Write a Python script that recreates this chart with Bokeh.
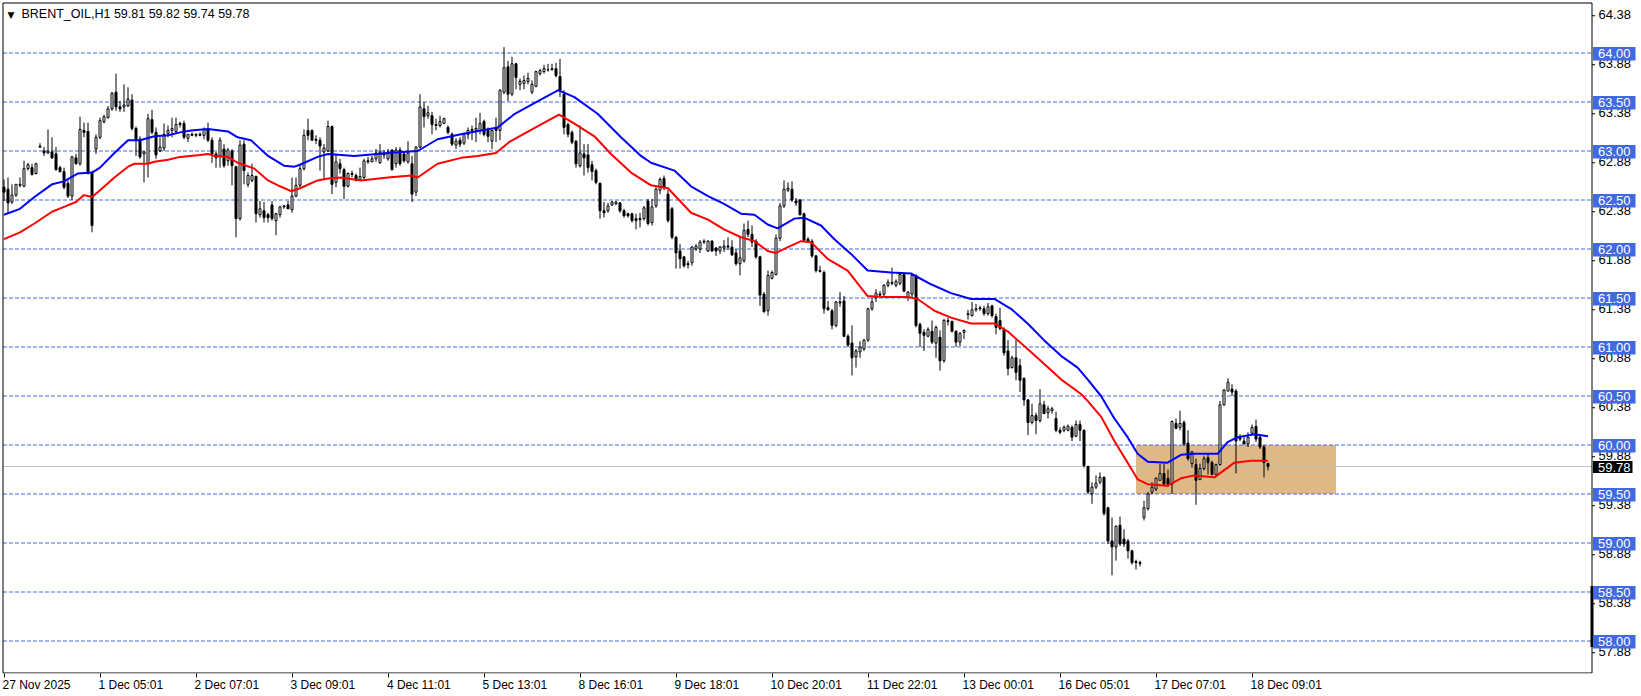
from bokeh.plotting import figure
from bokeh.models import Range1d, FixedTicker, Label, ColumnDataSource
from bokeh.core.properties import value
from bokeh.embed import file_html
from bokeh.resources import INLINE

# ---------------- data ----------------
header = "BRENT_OIL,H1  59.81 59.82 59.74 59.78"

opens = [62.63,62.61,62.48,62.55,62.65,62.64,62.82,62.83,62.77,63.04,63.00,62.98,62.99,62.97,62.83,62.79,62.67,62.54,62.93,62.87,
63.21,63.20,62.78,63.02,63.14,63.30,63.34,63.43,63.60,63.45,63.45,63.46,63.52,63.23,63.12,62.97,62.87,63.32,63.19,63.00,
63.03,63.18,63.21,63.20,63.27,63.28,63.13,63.17,63.16,63.17,63.16,63.23,63.11,62.97,62.95,63.02,62.90,63.00,62.84,62.31,
63.07,62.66,62.70,62.74,62.35,62.39,62.35,62.45,62.29,62.35,62.43,62.45,62.40,62.54,62.65,62.82,63.21,63.21,63.12,63.11,
62.99,63.00,63.25,62.68,62.87,62.81,62.64,62.77,62.75,62.71,62.73,62.90,62.89,62.92,62.88,62.98,62.92,63.01,62.87,63.01,
62.97,62.89,62.87,62.58,63.04,63.43,63.36,63.36,63.27,63.26,63.28,63.24,63.17,63.06,63.11,63.08,63.17,63.21,63.21,63.21,
63.30,63.21,63.10,63.24,63.21,63.60,63.86,63.58,63.89,63.68,63.69,63.71,63.60,63.66,63.79,63.81,63.83,63.83,63.84,63.76,
63.58,63.27,63.19,63.10,62.85,62.97,62.96,62.86,62.80,62.67,62.39,62.39,62.45,62.46,62.47,62.39,62.36,62.36,62.31,62.31,
62.31,62.49,62.27,62.44,62.60,62.72,62.56,62.41,62.12,61.98,61.92,61.85,61.86,62.00,62.00,62.07,61.98,62.08,62.01,61.98,
62.01,62.03,62.02,61.96,61.85,61.88,62.20,62.15,62.08,61.92,61.54,61.37,61.70,61.74,62.11,62.44,62.60,62.61,62.49,62.50,
62.36,62.10,62.08,61.93,61.78,61.76,61.40,61.37,61.22,61.46,61.47,61.11,61.04,60.90,60.95,60.98,61.07,61.39,61.50,61.54,
61.54,61.63,61.65,61.63,61.65,61.74,61.51,61.54,61.73,61.23,61.15,61.11,61.16,61.04,61.10,60.86,61.26,61.26,61.16,61.05,
61.15,61.33,61.32,61.38,61.39,61.39,61.34,61.42,61.31,61.27,61.18,60.96,60.79,60.89,60.81,60.68,60.46,60.23,60.30,60.25,
60.41,60.33,60.35,60.27,60.15,60.15,60.15,60.18,60.09,60.21,60.15,59.78,59.50,59.57,59.62,59.67,59.36,59.02,58.96,59.18,
59.04,59.02,58.92,58.81,58.80,59.26,59.35,59.52,59.55,59.64,59.71,59.66,59.60,60.22,60.18,60.23,60.02,59.81,59.80,59.65,
59.76,59.87,59.82,59.70,59.80,60.41,60.55,60.57,60.55,60.07,60.04,60.01,60.12,60.19,60.08,59.98,59.81]

highs = [62.71,62.73,62.66,62.66,62.73,62.90,62.88,62.87,62.88,63.08,63.04,63.22,63.14,63.04,62.85,62.83,62.70,62.95,62.97,63.35,
63.29,63.29,62.80,63.17,63.34,63.37,63.46,63.60,63.79,63.51,63.68,63.65,63.58,63.25,63.15,63.00,63.38,63.42,63.24,63.14,
63.28,63.26,63.34,63.34,63.30,63.31,63.17,63.19,63.18,63.19,63.24,63.29,63.14,62.99,63.14,63.07,63.03,63.02,62.85,63.11,
63.11,62.78,62.87,62.75,62.49,62.48,62.37,62.49,62.37,62.44,62.45,62.49,62.73,62.73,62.87,63.22,63.33,63.22,63.16,63.14,
63.07,63.31,63.26,62.97,62.92,62.83,62.78,62.80,62.77,62.83,62.92,62.94,62.95,63.02,63.07,63.01,63.02,63.02,63.04,63.04,
63.00,63.10,62.95,63.05,63.58,63.50,63.46,63.40,63.33,63.36,63.34,63.26,63.19,63.13,63.14,63.19,63.24,63.26,63.34,63.39,
63.32,63.24,63.22,63.34,63.63,64.06,63.92,63.96,63.90,63.74,63.77,63.80,63.72,63.82,63.84,63.88,63.89,63.89,63.90,63.94,
63.62,63.29,63.21,63.11,63.26,63.07,63.07,62.90,62.82,62.68,62.48,62.47,62.49,62.49,62.48,62.41,62.37,62.37,62.36,62.37,
62.44,62.51,62.51,62.63,62.73,62.75,62.60,62.43,62.13,62.05,61.93,61.88,62.03,62.05,62.09,62.10,62.09,62.09,62.02,62.03,
62.09,62.12,62.09,62.00,62.12,62.26,62.29,62.24,62.10,61.93,61.56,61.78,61.78,62.15,62.47,62.70,62.68,62.69,62.52,62.51,
62.37,62.12,62.10,61.94,61.83,61.78,61.47,61.39,61.47,61.56,61.52,61.13,61.22,60.98,61.06,61.08,61.40,61.51,61.59,61.57,
61.64,61.69,61.81,61.69,61.76,61.76,61.57,61.74,61.74,61.25,61.18,61.20,61.27,61.22,61.17,61.29,61.30,61.27,61.17,61.15,
61.18,61.38,61.46,61.44,61.42,61.42,61.45,61.43,61.34,61.40,61.20,61.07,60.91,61.08,60.88,60.69,60.47,60.42,60.33,60.57,
60.45,60.40,60.39,60.34,60.18,60.20,60.21,60.20,60.25,60.25,60.16,59.79,59.62,59.69,59.72,59.68,59.37,59.26,59.18,59.27,
59.14,59.04,58.93,58.83,58.82,59.43,59.52,59.62,59.67,59.81,59.81,59.75,60.25,60.27,60.35,60.25,60.15,59.94,59.86,59.81,
59.89,59.91,59.84,59.81,60.45,60.57,60.68,60.62,60.57,60.11,60.08,60.13,60.21,60.26,60.10,60.00,59.82]

lows = [62.49,62.36,62.46,62.53,62.63,62.63,62.80,62.75,62.76,63.03,62.95,62.97,62.92,62.80,62.78,62.61,62.52,62.50,62.86,62.85,
63.14,62.76,62.17,62.97,63.12,63.28,63.33,63.41,63.41,63.40,63.40,63.45,63.21,62.95,62.92,62.68,62.73,63.17,62.92,62.99,
63.00,63.14,63.14,63.17,63.24,63.12,63.09,63.15,63.14,63.15,63.12,63.09,62.88,62.83,62.83,62.83,62.85,62.65,62.12,62.29,
62.66,62.63,62.68,62.27,62.32,62.27,62.27,62.29,62.14,62.32,62.41,62.41,62.37,62.53,62.63,62.80,63.11,63.11,63.07,62.80,
62.71,62.99,62.56,62.63,62.77,62.51,62.63,62.73,62.69,62.70,62.71,62.87,62.89,62.89,62.87,62.92,62.90,62.80,62.83,62.85,
62.88,62.87,62.48,62.54,63.03,63.24,63.33,63.17,63.21,63.24,63.28,63.17,63.05,63.02,63.04,63.06,63.12,63.11,63.09,63.17,
63.15,63.09,63.02,63.09,63.11,63.58,63.51,63.56,63.63,63.62,63.63,63.68,63.58,63.65,63.77,63.79,63.81,63.82,63.75,63.55,
63.17,63.14,63.07,62.83,62.83,62.75,62.78,62.70,62.66,62.31,62.32,62.37,62.44,62.45,62.37,62.32,62.32,62.27,62.20,62.22,
62.29,62.24,62.24,62.42,62.56,62.60,62.27,62.10,61.80,61.80,61.81,61.80,61.83,61.98,61.96,62.05,61.97,61.97,61.93,61.95,
61.97,61.99,61.93,61.83,61.73,61.86,62.12,62.02,61.90,61.42,61.35,61.32,61.69,61.73,62.08,62.42,62.58,62.48,62.44,62.34,
62.08,62.07,61.91,61.76,61.76,61.34,61.37,61.18,61.20,61.41,61.10,61.00,60.71,60.79,60.89,60.96,61.05,61.37,61.46,61.51,
61.51,61.61,61.63,61.61,61.63,61.56,61.47,61.51,61.20,61.00,60.96,61.10,61.03,60.89,60.76,60.84,61.22,61.15,61.00,61.01,
61.08,61.28,61.31,61.36,61.37,61.32,61.32,61.30,61.13,61.17,60.91,60.71,60.78,60.66,60.54,60.40,60.10,60.21,60.11,60.23,
60.32,60.27,60.32,60.13,60.11,60.13,60.14,60.04,60.08,60.04,59.77,59.50,59.40,59.55,59.60,59.28,58.99,58.67,58.82,58.97,
58.96,58.84,58.78,58.73,58.76,59.23,59.33,59.50,59.53,59.64,59.58,59.57,59.50,60.16,60.15,59.99,59.84,59.77,59.39,59.64,
59.74,59.70,59.69,59.69,59.79,60.40,60.55,60.50,59.71,60.04,60.01,59.98,60.10,60.03,59.96,59.67,59.74]

closes = [62.58,62.47,62.55,62.66,62.66,62.82,62.86,62.76,62.87,63.05,62.98,63.00,62.93,62.81,62.79,62.63,62.54,62.94,62.87,63.22,
63.19,62.77,62.24,63.14,63.31,63.35,63.43,63.59,63.45,63.43,63.47,63.53,63.23,63.12,62.94,62.99,63.33,63.19,62.96,63.04,
63.17,63.21,63.23,63.27,63.28,63.14,63.17,63.16,63.17,63.16,63.22,63.11,62.97,62.93,63.11,62.85,63.01,62.85,62.31,63.06,
62.80,62.75,62.75,62.36,62.41,62.32,62.32,62.31,62.36,62.43,62.44,62.41,62.54,62.65,62.82,63.16,63.16,63.11,63.11,63.05,
63.03,63.25,62.66,62.89,62.82,62.64,62.77,62.76,62.70,62.74,62.90,62.89,62.92,62.98,62.99,62.96,62.99,62.81,63.01,62.87,
62.90,62.98,62.56,63.04,63.45,63.35,63.39,63.27,63.26,63.30,63.33,63.19,63.07,63.10,63.07,63.17,63.21,63.22,63.23,63.28,
63.17,63.15,63.21,63.21,63.62,63.85,63.58,63.89,63.75,63.71,63.72,63.74,63.68,63.81,63.82,63.84,63.83,63.84,63.77,63.62,
63.24,63.17,63.09,62.87,62.98,62.93,62.83,62.79,62.68,62.39,62.37,62.44,62.48,62.48,62.39,62.34,62.34,62.29,62.29,62.30,
62.42,62.26,62.43,62.61,62.71,62.63,62.29,62.12,61.96,61.90,61.83,61.84,62.02,62.03,62.07,62.08,62.08,61.98,61.98,62.02,
62.03,62.02,61.94,61.85,61.91,62.19,62.15,62.07,61.92,61.53,61.36,61.73,61.76,62.11,62.44,62.61,62.62,62.50,62.47,62.35,
62.09,62.08,61.93,61.78,61.77,61.39,61.38,61.22,61.46,61.45,61.11,61.02,60.89,60.96,61.00,61.07,61.39,61.46,61.55,61.53,
61.63,61.66,61.66,61.67,61.74,61.57,61.56,61.73,61.22,61.14,61.12,61.18,61.05,61.20,60.86,61.27,61.27,61.16,61.05,61.14,
61.17,61.34,61.38,61.39,61.40,61.34,61.41,61.32,61.20,61.19,60.94,60.78,60.89,60.74,60.66,60.46,60.23,60.30,60.25,60.42,
60.32,60.37,60.37,60.15,60.13,60.18,60.19,60.08,60.21,60.15,59.79,59.52,59.57,59.61,59.67,59.30,59.02,58.96,59.17,58.99,
58.99,58.92,58.80,58.80,58.79,59.36,59.50,59.57,59.66,59.71,59.60,59.60,60.24,60.17,60.22,60.01,59.86,59.93,59.64,59.76,
59.86,59.82,59.70,59.80,60.41,60.56,60.64,60.54,60.04,60.06,60.01,60.08,60.18,60.06,59.98,59.82,59.78]

# blue and red moving-average lines, read at bar positions
blue_x = [0,4,7.6,12,15,18.4,22,24,27.6,31,34,37.6,41,44,46.75,51,56,58.4,61.75,66,70,72.6,74,78.4,81,87.6,96,103.4,108.4,114.25,
119.25,123.4,127.7,133.5,138.6,142.6,148.4,154.25,159.25,161.75,167.6,171.75,176,180,184.25,187.6,190.9,193.4,197.6,200,204.25,
207.6,211.75,215.9,221.75,226.75,231.75,236.75,241.75,247.6,251.75,255.9,260,264.25,268.4,270.9,274.25,277.6,280.9,283.4,285.9,
290.9,294.25,297.6,303.4,305.9,308.4,312.6,316]
blue_y = [62.35,62.41,62.53,62.66,62.69,62.77,62.78,62.83,62.98,63.11,63.11,63.15,63.16,63.19,63.21,63.225,63.20,63.14,63.11,62.95,
62.85,62.84,62.86,62.94,62.97,62.95,62.98,63.00,63.12,63.17,63.21,63.24,63.38,63.51,63.62,63.55,63.38,63.14,62.95,62.88,62.80,
62.64,62.54,62.46,62.36,62.35,62.25,62.21,62.31,62.32,62.24,62.10,61.95,61.78,61.76,61.75,61.64,61.55,61.49,61.49,61.39,61.24,
61.07,60.91,60.79,60.67,60.50,60.27,60.08,59.91,59.83,59.82,59.90,59.91,59.91,60.03,60.08,60.11,60.09]

red_x = [0,4,7.6,12,15,18,20,22,24,27.6,31,32.6,36,37.6,41,44,49,51,52.6,56,58.4,62.6,66,69,71.75,74,78.4,81,84.25,89.25,96,
101.75,103.4,108.4,114.25,118.4,123,126.25,132.9,138.75,142.6,147.6,151.75,156.75,161.75,166,171.75,176,180,184.25,187.6,190.9,
193,196,199.25,201.75,205.9,210.9,215.9,220,225.9,228.4,232.6,236.75,241.75,247.6,250.9,255.9,260,264.25,269.25,270.9,274.25,
277.6,280.9,283.4,285.9,290.9,294.25,297.6,302.6,307.6,311.75,316]
red_y = [62.10,62.17,62.26,62.38,62.43,62.48,62.55,62.53,62.60,62.73,62.84,62.87,62.87,62.89,62.91,62.94,62.96,62.97,62.95,62.94,
62.88,62.82,62.70,62.64,62.59,62.62,62.70,62.72,62.73,62.70,62.73,62.75,62.73,62.87,62.93,62.95,62.98,63.09,63.24,63.37,63.28,
63.15,62.97,62.78,62.65,62.62,62.37,62.30,62.20,62.12,62.08,61.98,61.96,62.02,62.08,62.07,61.90,61.78,61.52,61.51,61.51,61.49,
61.37,61.30,61.24,61.24,61.16,60.98,60.83,60.67,60.52,60.45,60.29,60.04,59.82,59.65,59.60,59.585,59.66,59.69,59.67,59.82,59.84,
59.84]

x_tick_bars = [0, 24, 48, 72, 96, 120, 144, 168, 192, 216, 240, 264, 288, 312]
x_tick_labels = ["27 Nov 2025", "1 Dec 05:01", "2 Dec 07:01", "3 Dec 09:01", "4 Dec 11:01", "5 Dec 13:01",
                 "8 Dec 16:01", "9 Dec 18:01", "10 Dec 20:01", "11 Dec 22:01", "13 Dec 00:01",
                 "16 Dec 05:01", "17 Dec 07:01", "18 Dec 09:01"]
y_tick_values = [57.88, 58.38, 58.88, 59.38, 59.88, 60.38, 60.88, 61.38, 61.88, 62.38, 62.88, 63.38, 63.88, 64.38]
level_lines = [58.0, 58.5, 59.0, 59.5, 60.0, 60.5, 61.0, 61.5, 62.0, 62.5, 63.0, 63.5, 64.0]
current_price = 59.78
zone_start, zone_end = 283, 333
zone_low, zone_high = 59.5, 60.0
marker_low, marker_high = 57.94, 58.56

# ---------------- layout (pixel geometry of the page) ----------------
W, H = 1641, 696
FRAME_H = 673                 # frame covers page rows 0..673, x axis below
PX_BAR = 4.0                  # pixels per bar
PX_UNIT = 98.0                # pixels per 1.00 of price
X0 = -3.5 / PX_BAR            # bar i centred on page column 3.5 + 4 i
X1 = X0 + W / PX_BAR
Y1 = 64.0 + 52.5 / PX_UNIT    # 64.00 on page row 52.5
Y0 = Y1 - FRAME_H / PX_UNIT


def px_x(px):
    return X0 + px / PX_BAR


def px_y(py):
    return Y1 - py / PX_UNIT


BORDER_L = px_x(2.5)
BORDER_T = px_y(2.5)
BORDER_B = px_y(672.5)
AXIS_X = px_x(1591.5)

BLUE = "#4169E1"
FONT = "Liberation Sans"

p = figure(width=W, height=H, frame_width=W, frame_height=FRAME_H,
           x_range=Range1d(X0, X1), y_range=Range1d(Y0, Y1),
           y_axis_location=None, output_backend="svg", toolbar_location=None,
           min_border_left=0, min_border_top=0, min_border_right=0, min_border_bottom=0,
           background_fill_color="white", border_fill_color="white",
           outline_line_color=None)
p.grid.visible = False

# x axis: tick marks at the bar positions (minor ticks), labels left-aligned at them (shifted major ticks)
char_w = {'D': 0.722, 'e': 0.556, 'c': 0.5, 'N': 0.722, 'o': 0.556, 'v': 0.5, ' ': 0.278, ':': 0.278}
FONT_X = 12


def text_width(s):
    return sum(char_w.get(ch, 0.556) for ch in s) * FONT_X


label_pos = [round(b + (text_width(t) / 2 - 1.5) / PX_BAR, 3) for b, t in zip(x_tick_bars, x_tick_labels)]
xa = p.xaxis[0]
xa.ticker = FixedTicker(ticks=label_pos, minor_ticks=x_tick_bars)
xa.major_label_overrides = {pos: t for pos, t in zip(label_pos, x_tick_labels)}
xa.major_tick_out = 0
xa.major_tick_in = 0
xa.minor_tick_out = 4
xa.minor_tick_in = 0
xa.minor_tick_line_color = "black"
xa.major_label_standoff = 0
xa.major_label_text_font = FONT
xa.major_label_text_font_size = "12px"
xa.major_label_text_color = "black"
xa.axis_line_color = None

# zone rectangle
p.quad(left=[zone_start], right=[zone_end], bottom=[zone_low], top=[zone_high],
       fill_color="#DEB887", line_color=None)

# dashed level lines (stop at the price axis)
n_lv = len(level_lines)
p.segment(x0=[BORDER_L] * n_lv, x1=[AXIS_X] * n_lv, y0=level_lines, y1=level_lines,
          line_color=BLUE, line_width=1, line_dash="4 2")
# current price line
p.segment(x0=[BORDER_L], x1=[AXIS_X], y0=[current_price], y1=[current_price],
          line_color="#C0C0C0", line_width=1)

# candles
idx = list(range(len(opens)))
src = ColumnDataSource(dict(
    x=idx, o=opens, h=highs, l=lows, c=closes,
    top=[max(o, c) for o, c in zip(opens, closes)],
    bottom=[min(o, c) for o, c in zip(opens, closes)],
    fill=["white" if c >= o else "black" for o, c in zip(opens, closes)],
))
p.segment(x0="x", y0="l", x1="x", y1="h", source=src, line_color="black", line_width=1)
p.vbar(x="x", top="top", bottom="bottom", width=0.5, fill_color="fill",
       line_color="black", line_width=1, source=src)

# moving averages
p.line(blue_x, blue_y, line_color="#0000FF", line_width=2)
p.line(red_x, red_y, line_color="#FF0000", line_width=2)

# chart frame: left, top, bottom borders and the price axis line
p.segment(x0=[BORDER_L, BORDER_L, BORDER_L, AXIS_X], x1=[BORDER_L, AXIS_X, AXIS_X, AXIS_X],
          y0=[BORDER_T, BORDER_T, BORDER_B, BORDER_T], y1=[BORDER_B, BORDER_T, BORDER_B, BORDER_B],
          line_color="black", line_width=1)

# marker bar on the price axis
p.segment(x0=[AXIS_X], x1=[AXIS_X], y0=[marker_low], y1=[marker_high], line_color="black", line_width=3)

# price axis ticks and labels
n_t = len(y_tick_values)
p.segment(x0=[AXIS_X] * n_t, x1=[px_x(1594.5)] * n_t, y0=y_tick_values, y1=y_tick_values,
          line_color="black", line_width=1)
p.text(x=[px_x(1598)] * n_t, y=[v + 1 / PX_UNIT for v in y_tick_values],
       text=[f"{v:.2f}" for v in y_tick_values], text_font=value(FONT), text_font_size="13px",
       text_align="left", text_baseline="middle", text_color="black")

# level price boxes on the axis
box_up, box_down = 6.0 / PX_UNIT, 7.5 / PX_UNIT
p.quad(left=[px_x(1592.5)] * n_lv, right=[px_x(1635)] * n_lv,
       top=[v + box_up for v in level_lines], bottom=[v - box_down for v in level_lines],
       fill_color=BLUE, line_color=None)
p.text(x=[px_x(1597.5)] * n_lv, y=[v - 0.75 / PX_UNIT for v in level_lines],
       text=[f"{v:.2f}" for v in level_lines], text_font=value(FONT), text_font_size="13px",
       text_align="left", text_baseline="middle", text_color="white")

# current price box
p.quad(left=[px_x(1592.5)], right=[px_x(1632)], top=[current_price + 5.5 / PX_UNIT],
       bottom=[current_price - 6.5 / PX_UNIT], fill_color="black", line_color=None)
p.text(x=[px_x(1597.5)], y=[current_price - 0.5 / PX_UNIT], text=[f"{current_price:.2f}"],
       text_font=value(FONT), text_font_size="13px", text_align="left", text_baseline="middle",
       text_color="white")

# header
p.add_layout(Label(x=X0, y=Y1, x_offset=7, y_offset=-9, text="\u25BC", text_font="DejaVu Sans",
                   text_font_size="9px", text_baseline="top", text_color="black"))
p.add_layout(Label(x=X0, y=Y1, x_offset=21, y_offset=-6, text=header, text_font=FONT,
                   text_font_size="12.5px", text_baseline="top", text_color="black"))

open("out.html", "w").write(file_html(p, INLINE))
